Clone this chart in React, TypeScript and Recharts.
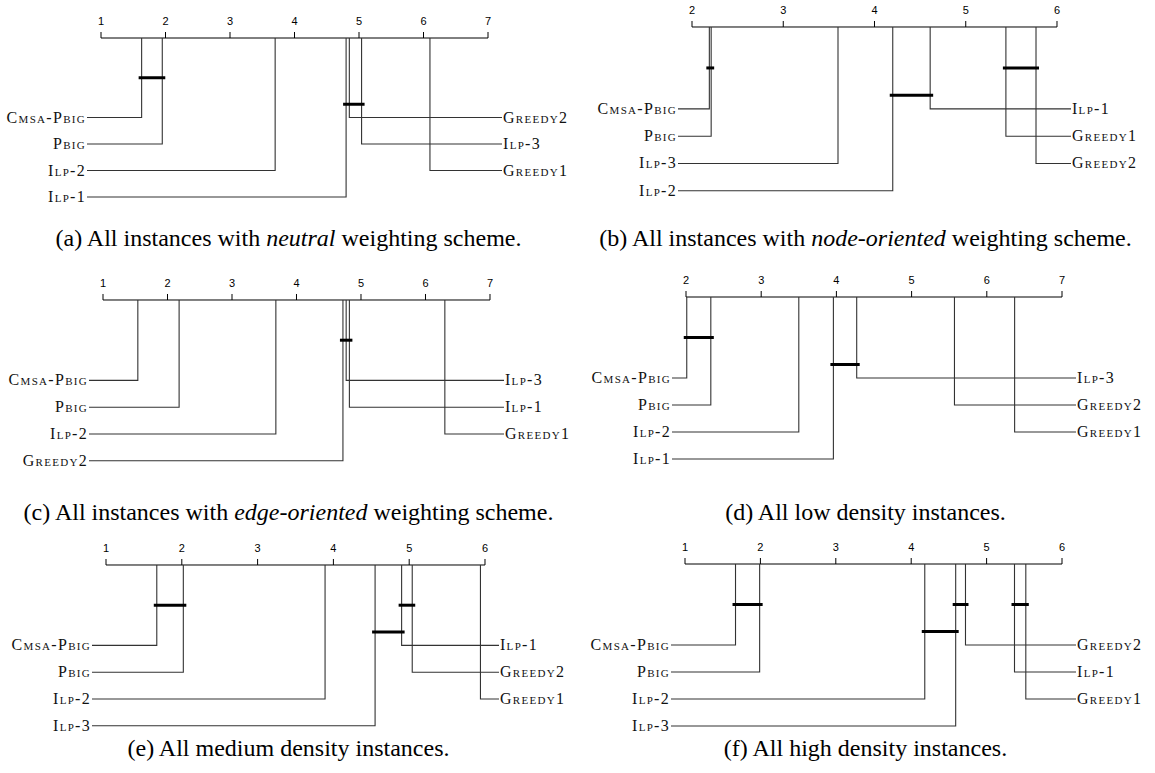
import React from "react";
import { ComposedChart, Line, XAxis, YAxis } from "recharts";

// average ranks, methods listed in rank order
const METHODS_A = ["Cmsa-Pbig", "Pbig", "Ilp-2", "Ilp-1", "Greedy2", "Ilp-3", "Greedy1"];
const RANKS_A = [1.63, 1.95, 3.7, 4.8, 4.85, 5.04, 6.1];
const TICKS_A = [1, 2, 3, 4, 5, 6, 7];
const CLIQUES_A = [[0, 1, 0], [3, 5, 1]];

const METHODS_B = ["Cmsa-Pbig", "Pbig", "Ilp-3", "Ilp-2", "Ilp-1", "Greedy1", "Greedy2"];
const RANKS_B = [2.19, 2.21, 3.6, 4.2, 4.61, 5.44, 5.77];
const TICKS_B = [2, 3, 4, 5, 6];
const CLIQUES_B = [[0, 1, 0], [5, 6, 0], [3, 4, 1]];

const METHODS_C = ["Cmsa-Pbig", "Pbig", "Ilp-2", "Greedy2", "Ilp-3", "Ilp-1", "Greedy1"];
const RANKS_C = [1.54, 2.18, 3.68, 4.72, 4.77, 4.82, 6.3];
const TICKS_C = [1, 2, 3, 4, 5, 6, 7];
const CLIQUES_C = [[3, 5, 0]];

const METHODS_D = ["Cmsa-Pbig", "Pbig", "Ilp-2", "Ilp-1", "Ilp-3", "Greedy2", "Greedy1"];
const RANKS_D = [2.01, 2.33, 3.5, 3.96, 4.27, 5.57, 6.37];
const TICKS_D = [2, 3, 4, 5, 6, 7];
const CLIQUES_D = [[0, 1, 0], [3, 4, 1]];

const METHODS_E = ["Cmsa-Pbig", "Pbig", "Ilp-2", "Ilp-3", "Ilp-1", "Greedy2", "Greedy1"];
const RANKS_E = [1.67, 2.02, 3.89, 4.55, 4.9, 5.04, 5.94];
const TICKS_E = [1, 2, 3, 4, 5, 6];
const CLIQUES_E = [[0, 1, 0], [4, 5, 0], [3, 4, 1]];

const METHODS_F = ["Cmsa-Pbig", "Pbig", "Ilp-2", "Ilp-3", "Greedy2", "Ilp-1", "Greedy1"];
const RANKS_F = [1.67, 1.99, 4.18, 4.59, 4.72, 5.37, 5.52];
const TICKS_F = [1, 2, 3, 4, 5, 6];
const CLIQUES_F = [[0, 1, 0], [3, 4, 0], [5, 6, 0], [2, 3, 1]];

const CAPTIONS = [
  ["(a) All instances with ", "neutral", " weighting scheme."],
  ["(b) All instances with ", "node-oriented", " weighting scheme."],
  ["(c) All instances with ", "edge-oriented", " weighting scheme."],
  ["(d) All low density instances.", "", ""],
  ["(e) All medium density instances.", "", ""],
  ["(f) All high density instances.", "", ""],
];

const PANELS = [
  { methods: METHODS_A, ranks: RANKS_A, ticks: TICKS_A, cliques: CLIQUES_A, left: 0, top: 0, xLo: 101, xHi: 488, axisY: 38, step: 26.5, captionY: 238 },
  { methods: METHODS_B, ranks: RANKS_B, ticks: TICKS_B, cliques: CLIQUES_B, left: 577, top: 0, xLo: 692, xHi: 1057, axisY: 27, step: 27.3, captionY: 238 },
  { methods: METHODS_C, ranks: RANKS_C, ticks: TICKS_C, cliques: CLIQUES_C, left: 0, top: 250, xLo: 103, xHi: 490, axisY: 300, step: 26.8, captionY: 512 },
  { methods: METHODS_D, ranks: RANKS_D, ticks: TICKS_D, cliques: CLIQUES_D, left: 577, top: 250, xLo: 686, xHi: 1062, axisY: 297, step: 27, captionY: 512 },
  { methods: METHODS_E, ranks: RANKS_E, ticks: TICKS_E, cliques: CLIQUES_E, left: 0, top: 510, xLo: 106, xHi: 485, axisY: 565, step: 26.8, captionY: 748 },
  { methods: METHODS_F, ranks: RANKS_F, ticks: TICKS_F, cliques: CLIQUES_F, left: 577, top: 510, xLo: 685, xHi: 1062, axisY: 564, step: 27, captionY: 748 },
];

const W = 577;
const EXT = 14; // px the label lines run past the axis ends
const AXIS_H = 24;
const SERIF = "'Liberation Serif', 'Times New Roman', serif";

function CDPanel({ p, caption }: { p: any; caption: string[] }) {
  const lo = p.ticks[0];
  const hi = p.ticks[p.ticks.length - 1];
  const ppr = (p.xHi - p.xLo) / (hi - lo);
  const e = EXT / ppr;
  const barExt = 3 / ppr;
  const nLeft = Math.ceil(p.methods.length / 2);
  const marginTop = p.axisY - p.top - AXIS_H;
  const marginLeft = p.xLo - EXT - p.left;
  const marginRight = p.left + W - (p.xHi + EXT);
  const plotH = 6 * p.step;
  const H = marginTop + AXIS_H + plotH + 8;

  return (
    <div style={{ position: "absolute", left: p.left, top: p.top, width: W }}>
      <ComposedChart width={W} height={H} margin={{ top: marginTop, left: marginLeft, right: marginRight, bottom: 8 }}>
        <XAxis
          type="number"
          dataKey="x"
          orientation="top"
          domain={[lo - e, hi + e]}
          ticks={p.ticks}
          interval={0}
          height={AXIS_H}
          axisLine={false}
          tickLine={{ stroke: "#000" }}
          tickSize={6}
          tickMargin={7}
          tick={{ fontSize: 11, fill: "#000", fontFamily: "'Liberation Sans', Arial, sans-serif" }}
        />
        <YAxis type="number" dataKey="y" domain={[0, 6]} reversed hide />
        <Line
          data={[{ x: lo, y: 0 }, { x: hi, y: 0 }]}
          dataKey="y"
          stroke="#000"
          strokeWidth={1}
          dot={false}
          activeDot={false}
          isAnimationActive={false}
        />
        {p.methods.map((name: string, i: number) => {
          const isLeft = i < nLeft;
          const row = 3 + (isLeft ? i : i - nLeft);
          const r = p.ranks[i];
          const pts = [
            { x: r, y: 0 },
            { x: r, y: row },
            { x: isLeft ? lo - e : hi + e, y: row },
          ];
          return (
            <Line
              key={name}
              data={pts}
              dataKey="y"
              stroke="#333"
              strokeWidth={1.1}
              activeDot={false}
              isAnimationActive={false}
              dot={(d: any) => {
                if (d.index !== 2) return <g key={d.index} />;
                return (
                  <text
                    key={d.index}
                    x={isLeft ? d.cx - 1 : d.cx + 1}
                    y={d.cy + 5}
                    textAnchor={isLeft ? "end" : "start"}
                    fontSize={16}
                    fill="#111"
                    style={{ fontFamily: SERIF, fontVariant: "small-caps", letterSpacing: 1.3 }}
                  >
                    {name}
                  </text>
                );
              }}
            />
          );
        })}
        {p.cliques.map((c: number[], k: number) => (
          <Line
            key={"c" + k}
            data={[
              { x: p.ranks[c[0]] - barExt, y: 1.5 + c[2] },
              { x: p.ranks[c[1]] + barExt, y: 1.5 + c[2] },
            ]}
            dataKey="y"
            stroke="#000"
            strokeWidth={3}
            dot={false}
            activeDot={false}
            isAnimationActive={false}
          />
        ))}
      </ComposedChart>
      <div
        style={{
          position: "absolute",
          left: 0,
          top: p.captionY - p.top - 14,
          width: W,
          textAlign: "center",
          fontFamily: SERIF,
          fontSize: 24,
          lineHeight: "28px",
          color: "#000",
          whiteSpace: "nowrap",
        }}
      >
        {caption[0]}
        {caption[1] ? <i>{caption[1]}</i> : null}
        {caption[2]}
      </div>
    </div>
  );
}

export default function App() {
  return (
    <div style={{ position: "absolute", left: 0, top: 0, width: 1155, height: 773, background: "#fff" }}>
      {PANELS.map((p, i) => (
        <CDPanel key={i} p={p} caption={CAPTIONS[i]} />
      ))}
    </div>
  );
}
